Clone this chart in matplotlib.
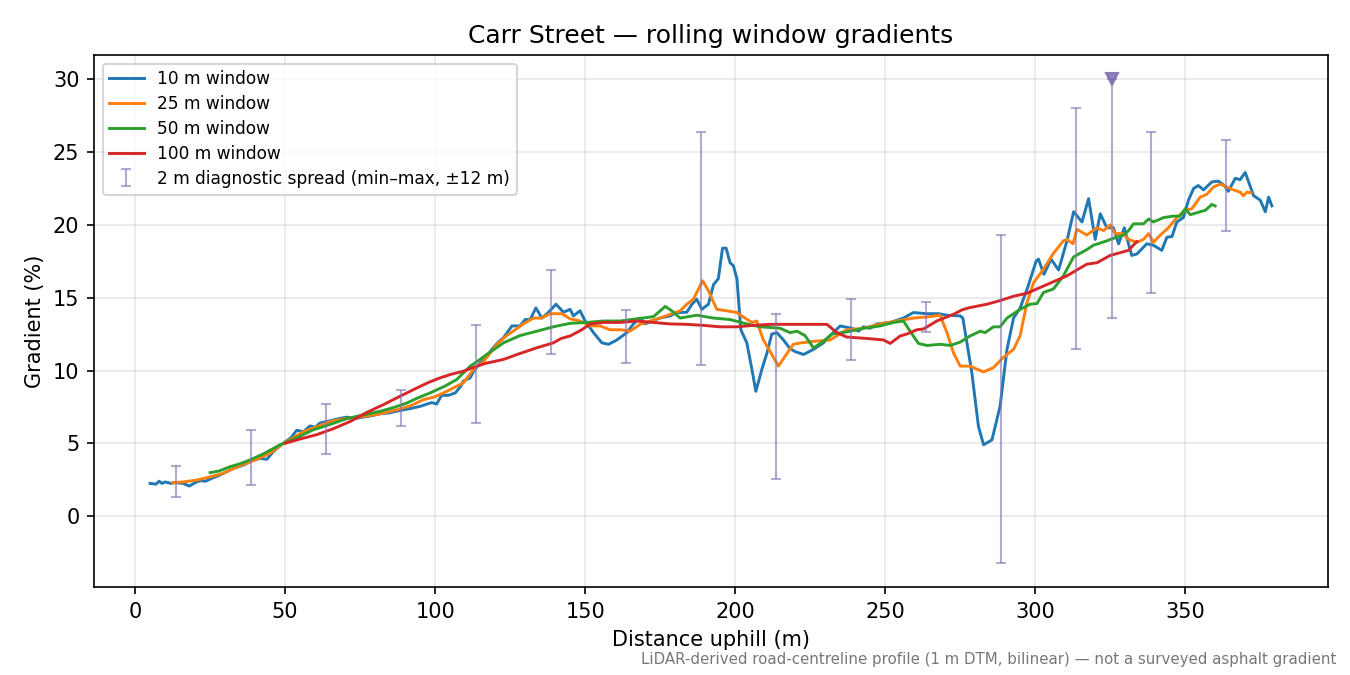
import matplotlib
matplotlib.use("Agg")
import matplotlib.pyplot as plt
import numpy as np

# ---- data ----
x10 = [5, 7, 8, 9, 10, 12, 13.3, 16, 18.1, 20, 21.7, 23.5, 25.6, 28, 30.6, 33, 36.1, 39, 41.7, 43.9,
       46.1, 49.4, 52, 53.9, 56.1, 58.3, 60, 61.7, 64, 66.1, 68, 70.6, 73, 76.1, 79, 81.7, 85, 88.3,
       92, 95, 98.9, 100.5, 102.2, 104.5, 106.7, 108.5, 109.4, 111.7, 113, 115, 117, 118.9, 120.8,
       122.8, 124, 125.6, 128.3, 130, 131.7, 133.6, 135.6, 137.8, 140.3, 142.8, 145, 146.1, 148.3,
       150, 152.8, 155.6, 157.8, 160.6, 163.9, 166.1, 168.3, 170, 172.2, 175, 178.3, 180.6, 183.9,
       185.6, 187.2, 188.9, 191.1, 192.8, 194.4, 195.8, 197, 198.3, 199.4, 200.6, 201.9, 203.9,
       205.6, 206.9, 208.9, 210.6, 212.2, 213.9, 216.1, 218.3, 220, 222.8, 226.1, 229.4, 232.2,
       235, 238.9, 241.1, 242.8, 245, 247.2, 251.7, 256.1, 259.4, 263.9, 267.8, 270.6, 275, 275.9,
       278.9, 281.1, 282.8, 285.6, 288.3, 290.6, 292.8, 295, 297.5, 300.3, 301.1, 302.9, 305.3,
       307.8, 310.6, 312.8, 315.6, 317.8, 320, 321.7, 323.9, 326.1, 327.8, 329.7, 331.1, 332.2,
       333.9, 337.2, 339.4, 342.2, 343.9, 345.6, 347.2, 349.4, 351.1, 352.8, 354.4, 356.1, 358.9,
       361.1, 363, 364.4, 366.7, 368.3, 370, 372.8, 375, 376.7, 377.8, 378.9]
g10 = [2.25, 2.2, 2.4, 2.25, 2.35, 2.25, 2.3, 2.25, 2.07, 2.3, 2.44, 2.4, 2.6, 2.8, 3.06, 3.3, 3.5, 3.8, 3.97, 3.9,
       4.44, 5.0, 5.4, 5.9, 5.8, 6.2, 6.1, 6.4, 6.5, 6.6, 6.7, 6.8, 6.7, 6.8, 6.9, 7.03, 7.1, 7.26,
       7.4, 7.54, 7.8, 7.7, 8.3, 8.3, 8.46, 8.9, 9.27, 9.5, 10.0, 10.5, 10.9, 11.45, 11.9,
       12.25, 12.6, 13.06, 13.06, 13.5, 13.5, 14.3, 13.6, 14.0, 14.55, 14.0, 14.2, 13.75, 14.1,
       13.4, 12.6, 11.9, 11.8, 12.1, 12.6, 13.2, 13.6, 13.2, 13.4, 13.6, 13.75, 13.98, 14.0,
       14.55, 14.9, 14.2, 14.55, 15.9, 16.3, 18.4, 18.4, 17.4, 17.2, 16.3, 12.8, 11.9,
       10.07, 8.57, 10.07, 11.2, 12.5, 12.6, 12.1, 11.5, 11.3, 11.1, 11.45, 11.9, 12.5,
       13.06, 12.9, 12.7, 13.0, 12.9, 13.2, 13.3, 13.6, 13.98, 13.9, 13.9, 13.8, 13.75, 13.6,
       9.84, 6.16, 4.9, 5.24, 7.54, 11.45, 13.6, 14.3, 15.7, 17.5, 17.65, 16.6, 17.65,
       16.9, 18.9, 20.9, 20.2, 21.8, 19.0, 20.76, 19.8, 19.8, 18.7, 19.8, 18.7, 17.9,
       18.0, 18.7, 18.6, 18.25, 19.15, 19.2, 20.2, 20.5, 21.7, 22.5, 22.7, 22.4, 22.95,
       23.0, 22.7, 22.3, 23.2, 23.1, 23.6, 22.0, 21.7, 20.9, 21.9, 21.3]

x25 = [12.5, 16, 20.6, 25, 29.4, 33, 37.2, 41, 45, 49.4, 52, 56.1, 60, 65, 70, 76.1, 81, 87.2, 92,
       96.1, 100, 103.9, 107, 109.4, 112.8, 116.1, 120.6, 123.9, 126.7, 129.4, 132.8, 135.6, 138.3,
       142.2, 145, 148.3, 151.7, 155, 158.3, 161.7, 165, 168.3, 171.7, 175, 178.3, 181.7, 183.9,
       186.1, 187.8, 189.2, 191.1, 193.9, 197.2, 200.6, 203.3, 205.6, 207.2, 209.4, 211.7, 214.4,
       216.7, 219.4, 222, 226.1, 231.7, 237.2, 242.8, 248.3, 253.9, 259.4, 265, 268.3, 270.6,
       272.8, 275, 278.3, 282.8, 286.1, 289.4, 292.8, 295, 297.2, 299.4, 302.8, 306.1, 309.4,
       310.6, 312.6, 313.9, 317.2, 320.6, 322.8, 325, 326.7, 329.4, 331.1, 333.9, 336.1, 337.8,
       339.4, 341.7, 344.4, 347.2, 350, 352.2, 355, 357.2, 359.4, 361.7, 363.9, 366.1, 368.3,
       369.4, 370.6, 372]
g25 = [2.3, 2.35, 2.48, 2.7, 2.94, 3.3, 3.63, 3.95, 4.32, 5.0, 5.3, 5.8, 6.1, 6.5, 6.7, 6.85, 7.0, 7.3, 7.6,
       8.0, 8.2, 8.57, 8.9, 9.15, 10.07, 10.6, 11.8, 12.4, 12.8, 13.2, 13.6, 13.6, 13.9,
       13.9, 13.55, 13.4, 13.06, 13.06, 12.8, 12.8, 12.7, 13.17, 13.4, 13.6, 13.86, 14.1, 14.55,
       14.9, 15.6, 16.16, 15.47, 14.2, 14.1, 13.98, 13.6, 13.3, 13.4, 12.1, 11.3, 10.3,
       11.0, 11.8, 11.9, 12.0, 12.1, 12.8, 12.9, 13.2, 13.4, 13.6, 13.7, 13.8, 12.6,
       11.2, 10.3, 10.3, 9.9, 10.2, 10.9, 11.45, 12.4, 14.6, 16.0, 16.97, 18.05, 18.9,
       19.0, 18.7, 19.7, 19.3, 19.8, 19.6, 20.0, 19.4, 19.4, 19.0, 18.8, 19.0, 19.4,
       18.8, 19.3, 19.8, 20.5, 21.0, 21.1, 21.9, 22.1, 22.6, 22.8, 22.6, 22.4, 22.25,
       22.0, 22.25, 22.2]

x50 = [25, 28, 31.7, 35, 38.3, 43, 48.3, 54, 59.4, 65, 70.6, 76, 81.7, 86, 90.6, 94, 98.3, 103,
       107.2, 111.7, 113.9, 117.2, 122.8, 128.3, 133.9, 139.4, 145, 150.6, 156.1, 161.7, 167.2,
       172.8, 176.7, 178.9, 181.7, 187.2, 192.8, 198.3, 203.9, 208.3, 212, 215, 218.3, 220.6,
       223.3, 226.1, 229.4, 232.2, 237.2, 242.8, 248.3, 252.8, 256.1, 258.3, 261.1, 263.9, 268.3,
       271.7, 275, 278.3, 281.7, 283.3, 286.1, 288.3, 290.6, 295, 298.3, 300.6, 302.8, 306.1,
       309.4, 312.8, 317.2, 319.4, 323.9, 325, 329.4, 331.1, 332.8, 336.1, 337.8, 339.4, 342.8,
       346.1, 348.3, 350, 351.7, 355, 356.7, 358.9, 360]
g50 = [2.99, 3.1, 3.4, 3.6, 3.86, 4.3, 4.9, 5.4, 5.93, 6.3, 6.7, 6.95, 7.2, 7.45, 7.77, 8.1, 8.46, 8.9,
       9.38, 10.3, 10.6, 11.1, 11.9, 12.4, 12.7, 13.0, 13.24, 13.3, 13.4, 13.4, 13.55,
       13.7, 14.4, 14.1, 13.6, 13.8, 13.6, 13.5, 13.2, 13.0, 12.95, 12.9, 12.6, 12.7,
       12.4, 11.55, 12.0, 12.5, 12.65, 12.9, 13.06, 13.3, 13.4, 12.7, 11.86, 11.72, 11.8,
       11.72, 11.95, 12.37, 12.7, 12.6, 13.0, 13.0, 13.6, 14.2, 14.55, 14.6, 15.36, 15.6,
       16.5, 17.8, 18.3, 18.6, 18.9, 19.0, 19.3, 19.6, 20.07, 20.07, 20.4, 20.2, 20.5,
       20.6, 20.6, 21.1, 20.7, 20.9, 21.0, 21.4, 21.3]

x100 = [50, 55, 60.6, 66, 71.7, 77, 82.8, 88, 93.9, 98, 101.7, 105.5, 109.4, 113.9, 117, 122.8, 128,
        133.9, 139.4, 142, 145, 148.9, 151.7, 156.1, 161.7, 167.2, 172.8, 178.3, 183.9, 189.4, 195,
        200.6, 206.1, 211.7, 221.7, 230.6, 233.9, 237.2, 243.9, 249.4, 251.7, 255, 257.2, 260.6,
        262.8, 267.2, 272.8, 275.6, 277.8, 283.9, 288.3, 292.8, 297.2, 303.9, 310.6, 317.2, 320.6,
        325, 331.1, 333.9]
g100 = [5.0, 5.3, 5.6, 6.0, 6.5, 7.1, 7.66, 8.2, 8.8, 9.2, 9.5, 9.75, 9.95, 10.3, 10.5, 10.76, 11.15,
        11.56, 11.9, 12.2, 12.37, 12.8, 13.2, 13.3, 13.3, 13.4, 13.3, 13.2, 13.17, 13.1, 13.0,
        13.0, 13.1, 13.17, 13.17, 13.17, 12.6, 12.3, 12.2, 12.1, 11.86, 12.37, 12.5, 12.8,
        12.85, 13.4, 13.86, 14.16, 14.3, 14.55, 14.8, 15.1, 15.3, 15.9, 16.5, 17.3, 17.4,
        17.9, 18.25, 18.85]

spread_x = [13.5, 38.5, 63.5, 88.5, 113.5, 138.5, 163.5, 188.5, 213.5, 238.5, 263.5, 288.5,
            313.5, 325.7, 338.5, 363.5]
spread_lo = [1.3, 2.15, 4.3, 6.2, 6.4, 11.1, 10.55, 10.4, 2.55, 10.7, 12.65, -3.2,
             11.5, 13.6, 15.3, 19.6]
spread_hi = [3.45, 5.9, 7.7, 8.65, 13.15, 16.9, 14.15, 26.4, 13.9, 14.9, 14.7, 19.3,
             28.0, 30.0, 26.4, 25.8]
clip_x = [325.7]
clip_y = [30.0]

series = [(x10, g10, "10 m window", "#1f77b4"),
          (x25, g25, "25 m window", "#ff7f0e"),
          (x50, g50, "50 m window", "#2ca02c"),
          (x100, g100, "100 m window", "#d62728")]

fig, ax = plt.subplots(figsize=(9, 4.5), dpi=150)
fig.subplots_adjust(left=0.0696, right=0.9837, top=0.9185, bottom=0.1304)

for xs, ys, lab, col in series:
    ax.plot(xs, ys, color=col, lw=1.4, label=lab)

sx = np.array(spread_x)
lo = np.array(spread_lo)
hi = np.array(spread_hi)
mid = (lo + hi) / 2
ax.errorbar(sx, mid, yerr=[mid - lo, hi - mid], fmt="none", ecolor="#8172b3",
            alpha=0.6, elinewidth=1.0, capsize=2.5, capthick=1.0,
            label="2 m diagnostic spread (min\u2013max, \u00b112 m)")
ax.plot(clip_x, clip_y, marker="v", ls="none", color="#8172b3", alpha=0.9,
        markersize=5.5, clip_on=False)

ax.grid(True, color="#b0b0b0", alpha=0.3, lw=0.8)
ax.set_title("Carr Street \u2014 rolling window gradients", fontsize=12)
ax.set_xlabel("Distance uphill (m)", fontsize=10)
ax.set_ylabel("Gradient (%)", fontsize=10)
ax.legend(loc="upper left", fontsize=8.2, labelspacing=0.4)
fig.text(0.99, 0.012, "LiDAR-derived road-centreline profile (1 m DTM, bilinear) \u2014 not a surveyed asphalt gradient",
         ha="right", va="bottom", fontsize=7.2, color="#777777")

fig.savefig("out.png", dpi=150)
